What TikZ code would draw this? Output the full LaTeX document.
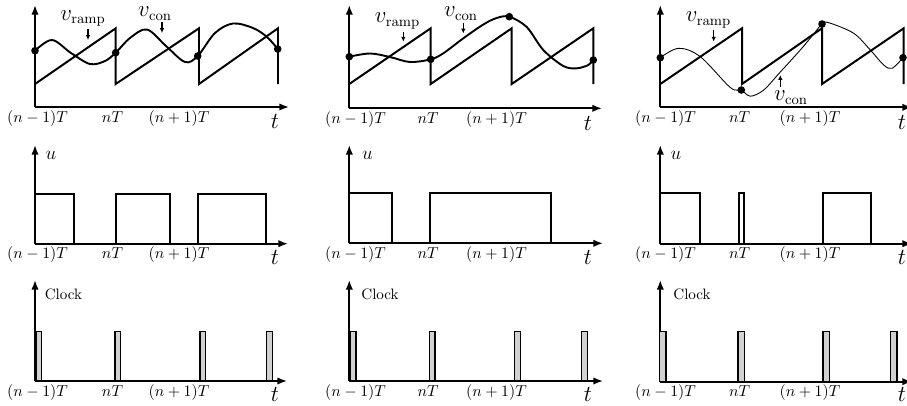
\documentclass[tikz,border=0pt]{standalone}
\usetikzlibrary{arrows.meta}
\begin{document}
\begin{tikzpicture}[x=0.63pt,y=-0.63pt,
 axis/.style={line width=1.05pt,-{Latex[length=6pt,width=4.6pt]}},
 wave/.style={line width=1.25pt,line join=miter},
 ctrl/.style={line width=1.2pt},
 thinctrl/.style={line width=0.55pt},
 dot/.style={circle,fill=black,inner sep=0pt,minimum size=4.8pt},
 lblarrow/.style={line width=0.9pt,-{Latex[length=3pt,width=2.8pt]}},
 ticklab/.style={font=\fontsize{10}{12}\selectfont,inner sep=0pt,anchor=base},
 tlab/.style={font=\fontsize{14}{16}\selectfont,inner sep=0pt,anchor=base},
 ulab/.style={font=\fontsize{12.5}{14}\selectfont,inner sep=0pt},
 vlab/.style={font=\fontsize{13.5}{16}\selectfont,inner sep=0pt},
 clklab/.style={font=\fontsize{9.5}{11}\selectfont,inner sep=0pt},
 clk/.style={draw,line width=0.8pt,fill=black!18},
]
\useasboundingbox (0,0) rectangle (907,405);

% ================= TOP ROW =================
% panel 1
\coordinate (o11) at (35,107);
\coordinate (y11) at (35,5);
\coordinate (x11) at (289,107);
\draw[axis] (o11) -- (y11);
\draw[axis] (o11) -- (x11);
\draw[wave] (35,84) -- (115.7,28.3) -- (115.7,84) -- (199,28.3) -- (199,84) -- (278,28.3) -- (278,84);
\draw[ctrl] plot[smooth,tension=0.55] coordinates {(35,50.7) (52,40) (71,53) (90,64) (105,61) (115.7,52.7) (130,38) (147,29.5) (166,46) (185,62) (197.7,56) (215,33) (233,23.5) (253,28) (267,37) (277.7,49)};
\node[dot] (d11) at (35,50.7) {};
\node[dot] (d12) at (115.7,52.7) {};
\node[dot] (d13) at (197.7,56) {};
\node[dot] (d14) at (277.7,49) {};
\node[vlab] (vr1) at (83,18.5) {$v_{\mathrm{ramp}}$};
\node[vlab] (vc1) at (155,13.5) {$v_{\mathrm{con}}$};
\coordinate (ar1s) at (88,28.5); \coordinate (ar1e) at (88,40);
\coordinate (ac1s) at (162,22); \coordinate (ac1e) at (162,33);
\draw[lblarrow] (ar1s) -- (ar1e);
\draw[lblarrow] (ac1s) -- (ac1e);

% panel 2
\coordinate (o21) at (349.3,108.3);
\coordinate (y21) at (349.3,5);
\coordinate (x21) at (602,108.3);
\draw[axis] (o21) -- (y21);
\draw[axis] (o21) -- (x21);
\draw[wave] (349.3,84) -- (430.7,28.3) -- (430.7,84) -- (511.7,28.3) -- (511.7,84) -- (593.3,28.3) -- (593.3,84);
\draw[ctrl] plot[smooth,tension=0.55] coordinates {(349.3,56.7) (370,53.5) (390,57) (410,62) (430.7,59.3) (443.3,53.3) (463.3,38.3) (483.3,24.5) (496.7,18) (509.3,16.7) (526.7,27) (543.3,50) (563.3,66) (576.7,68.3) (588.3,65) (593.3,60)};
\node[dot] (d21) at (349.3,56.7) {};
\node[dot] (d22) at (430.7,59.3) {};
\node[dot] (d23) at (509.3,16.7) {};
\node[dot] (d24) at (593.3,60) {};
\node[vlab] (vr2) at (397.5,21) {$v_{\mathrm{ramp}}$};
\node[vlab] (vc2) at (461,13.5) {$v_{\mathrm{con}}$};
\coordinate (ar2s) at (403.3,31.7); \coordinate (ar2e) at (403.3,41.7);
\coordinate (ac2s) at (463.3,22.5); \coordinate (ac2e) at (463.3,33.5);
\draw[lblarrow] (ar2s) -- (ar2e);
\draw[lblarrow] (ac2s) -- (ac2e);

% panel 3
\coordinate (o31) at (660.3,107.3);
\coordinate (y31) at (660.3,5);
\coordinate (x31) at (912,107.3);
\draw[axis] (o31) -- (y31);
\draw[axis] (o31) -- (x31);
\draw[wave] (660.3,84) -- (742,28.3) -- (742,84) -- (822,28.3) -- (822,84) -- (903.7,28.3) -- (903.7,84);
\draw[thinctrl] plot[smooth,tension=0.55] coordinates {(660.3,57.7) (678.7,48.3) (700.3,56.7) (730.3,87.5) (741.3,90) (750.3,96.2) (763.7,90) (780.3,72) (800.3,50) (813.7,34) (822,24) (828.7,22.7) (853.7,33.3) (870.3,50) (883.7,65) (892,68.3) (903,57.7)};
\node[dot] (d31) at (660.3,57.7) {};
\node[dot] (d32) at (741.3,90) {};
\node[dot] (d33) at (822,24) {};
\node[dot] (d34) at (903,57.7) {};
\node[vlab] (vr3) at (708.5,20) {$v_{\mathrm{ramp}}$};
\node[vlab] (vc3) at (791,97.5) {$v_{\mathrm{con}}$};
\coordinate (ar3s) at (713.7,30); \coordinate (ar3e) at (713.7,41.7);
\coordinate (ac3s) at (780.3,87); \coordinate (ac3e) at (780.3,75);
\draw[lblarrow] (ar3s) -- (ar3e);
\draw[lblarrow] (ac3s) -- (ac3e);

% ================= MIDDLE ROW =================
% panel 1
\coordinate (o12) at (35,243.7);
\coordinate (y12) at (35,145);
\coordinate (x12) at (288,243.7);
\draw[axis] (o12) -- (y12);
\draw[axis] (o12) -- (x12);
\draw[wave] (35,243.7) -- (35,194) -- (74,194) -- (74,243.7) -- (115.7,243.7) -- (115.7,194) -- (170,194) -- (170,243.7) -- (198.3,243.7) -- (198.3,194) -- (266,194) -- (266,243.7);
\node[ulab] (u1) at (51,155) {$u$};

% panel 2
\coordinate (o22) at (349.3,243.3);
\coordinate (y22) at (349.3,145);
\coordinate (x22) at (603,243.3);
\draw[axis] (o22) -- (y22);
\draw[axis] (o22) -- (x22);
\draw[wave] (349.3,243.3) -- (349.3,193.3) -- (391.7,193.3) -- (391.7,243.3) -- (430,243.3) -- (430,193.3) -- (550.7,193.3) -- (550.7,243.3);
\node[ulab] (u2) at (367.5,155) {$u$};

% panel 3
\coordinate (o32) at (660.3,243.7);
\coordinate (y32) at (660.3,145);
\coordinate (x32) at (912,243.7);
\draw[axis] (o32) -- (y32);
\draw[axis] (o32) -- (x32);
\draw[wave] (660.3,243.7) -- (660.3,193.3) -- (699.7,193.3) -- (699.7,243.7) -- (738.7,243.7) -- (738.7,193.3) -- (744.3,193.3) -- (744.3,243.7) -- (823,243.7) -- (823,193.3) -- (871.3,193.3) -- (871.3,243.7) -- (895,243.7);
\node[ulab] (u3) at (676,155) {$u$};

% ================= BOTTOM ROW =================
% panel 1
\coordinate (o13) at (35,381);
\coordinate (y13) at (35,280);
\coordinate (x13) at (287,381);
\draw[axis] (o13) -- (y13);
\draw[axis] (o13) -- (x13);
\foreach \a/\b in {36/41.7,115/120.7,200/205.7,266.7/272.7}
  \draw[clk] (\a,331.7) rectangle (\b,381);
\node[clklab] (c1) at (63.5,294) {Clock};

% panel 2
\coordinate (o23) at (349.3,381);
\coordinate (y23) at (349.3,280);
\coordinate (x23) at (603,381);
\draw[axis] (o23) -- (y23);
\draw[axis] (o23) -- (x23);
\foreach \a/\b in {350/356,429.3/435,514.3/520.7,581.7/587.7}
  \draw[clk] (\a,331.7) rectangle (\b,381);
\node[clklab] (c2) at (380,294) {Clock};

% panel 3
\coordinate (o33) at (660.3,381.7);
\coordinate (y33) at (660.3,280);
\coordinate (x33) at (912,381.7);
\draw[axis] (o33) -- (y33);
\draw[axis] (o33) -- (x33);
\foreach \a/\b in {659.3/666,738/744.3,823/829.7,890.3/897}
  \draw[clk] (\a,331.7) rectangle (\b,381.7);
\node[clklab] (c3) at (692,294) {Clock};

% ================= TICK LABELS (baselines) =================
\foreach \r/\yy/\ty in {1/122/128, 2/258.5/264.5, 3/396/401}{
  \node[ticklab] (l1a\r) at (37.5,\yy) {$(n-1)T$};
  \node[ticklab] (l1b\r) at (112.5,\yy) {$nT$};
  \node[ticklab] (l1c\r) at (179,\yy) {$(n+1)T$};
  \node[tlab] (t1\r) at (275,\ty) {$t$};
}
\foreach \r/\yy/\ty in {1/123/130, 2/258.5/264.5, 3/396/401}{
  \node[ticklab] (l2a\r) at (355.5,\yy) {$(n-1)T$};
  \node[ticklab] (l2b\r) at (428,\yy) {$nT$};
  \node[ticklab] (l2c\r) at (496.5,\yy) {$(n+1)T$};
  \node[tlab] (t2\r) at (588,\ty) {$t$};
}
\foreach \r/\yy/\ty in {1/122/129, 2/258.5/264.5, 3/396.5/401}{
  \node[ticklab] (l3a\r) at (665.5,\yy) {$(n-1)T$};
  \node[ticklab] (l3b\r) at (739.5,\yy) {$nT$};
  \node[ticklab] (l3c\r) at (810,\yy) {$(n+1)T$};
  \node[tlab] (t3\r) at (902,\ty) {$t$};
}
\end{tikzpicture}
\end{document}
